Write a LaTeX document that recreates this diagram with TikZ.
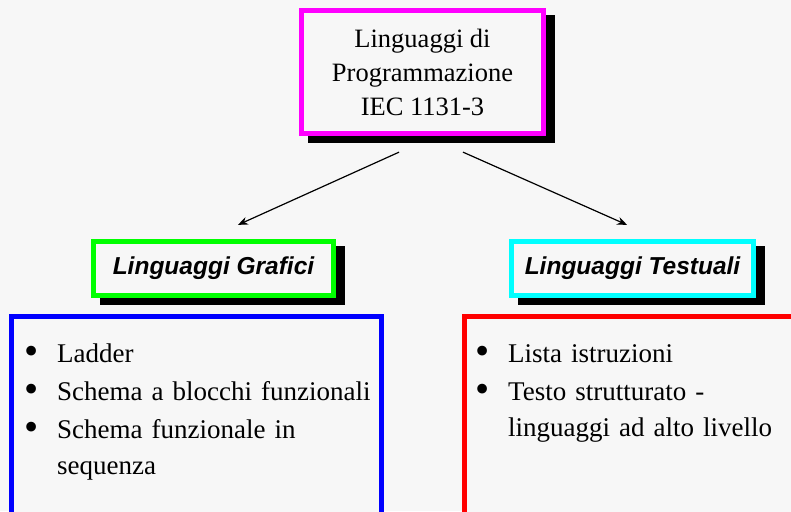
\documentclass[tikz,border=0pt]{standalone}
\usepackage{fontspec}
\setmainfont{Liberation Serif}
\newfontfamily\titolofont{Liberation Sans}
\usetikzlibrary{arrows.meta,shadows}

\definecolor{sfondo}{HTML}{F7F7F7}
\definecolor{fucsia}{HTML}{FF00FF}
\definecolor{verde}{HTML}{00FF00}
\definecolor{ciano}{HTML}{00FFFF}
\definecolor{blu}{HTML}{0000FF}
\definecolor{rosso}{HTML}{FF0000}

% elenco puntato dei riquadri inferiori
\newenvironment{puntini}{%
  \begin{list}{\raisebox{-1.5pt}{\scalebox{1.5}{\textbullet}}}{%
    \setlength{\leftmargin}{37pt}%
    \setlength{\labelsep}{19pt}%
    \setlength{\labelwidth}{16pt}%
    \setlength{\topsep}{0pt}%
    \setlength{\partopsep}{0pt}%
    \setlength{\parsep}{0pt}%
    \setlength{\itemsep}{2.5pt}}\raggedright}%
  {\end{list}}

\tikzset{
  riquadro/.style={draw=#1, line width=5pt, fill=sfondo, inner sep=0pt},
  ombra/.style={general shadow={fill=black, draw=black, line width=5pt,
                shadow xshift=9pt, shadow yshift=-7pt}},
  intestazione/.style={font=\titolofont\bfseries\itshape\fontsize{24.5}{29}\selectfont},
  lista/.style={anchor=north west, inner sep=0pt, text width=#1,
                font=\fontsize{27}{35.5}\selectfont},
  freccia/.style={-{Stealth[length=10pt,width=8pt]}, line width=1.2pt}
}

\begin{document}
\begin{tikzpicture}[x=1pt, y=-1pt]
    % --- Sfondo e margini ---
    \useasboundingbox (0,0) rectangle (791,511);
    \fill[sfondo] (0,0) rectangle (791,511);
    \clip (0,0) rectangle (791,511);

    % --- Riquadro principale ---
    \node[riquadro=fucsia, ombra, minimum width=242pt, minimum height=123pt,
          align=center, font=\fontsize{26.5}{34}\selectfont]
          (Titolo) at (422.5,72) {Linguaggi di\\Programmazione\\IEC 1131-3};

    % --- Le due famiglie di linguaggi ---
    \node[riquadro=verde, ombra, intestazione, minimum width=240pt, minimum height=54pt]
          (Grafici) at (213.5,268.5) {Linguaggi Grafici};
    \node[riquadro=ciano, ombra, intestazione, minimum width=242pt, minimum height=54pt]
          (Testuali) at (632.5,268.5) {Linguaggi Testuali};

    % --- Frecce ---
    \draw[freccia, shorten <=39.2pt, shorten >=34.3pt]
          ([xshift=12.3pt]Titolo.south) -- ([xshift=-6.8pt]Grafici.north);
    \draw[freccia, shorten <=39.8pt, shorten >=34.8pt]
          ([xshift=4.1pt]Titolo.south) -- ([xshift=26.4pt]Testuali.north);

    % --- Riquadri con gli elenchi (tagliati dal bordo) ---
    \node[riquadro=blu, minimum width=370pt, minimum height=224pt]
          (BoxGrafici) at (196.5,428.5) {};
    \node[riquadro=rosso, minimum width=366pt, minimum height=224pt]
          (BoxTestuali) at (647.5,428.5) {};

    \node[lista=355pt] (ElencoGrafici) at (20,327) {%
      \begin{puntini}
        \item Ladder
        \item Schema a blocchi funzionali
        \item Schema funzionale in\\sequenza
      \end{puntini}};
    \node[lista=310pt] (ElencoTestuali) at (471,327) {%
      \begin{puntini}
        \item Lista istruzioni
        \item Testo strutturato -\\linguaggi ad alto livello
      \end{puntini}};
\end{tikzpicture}
\end{document}
